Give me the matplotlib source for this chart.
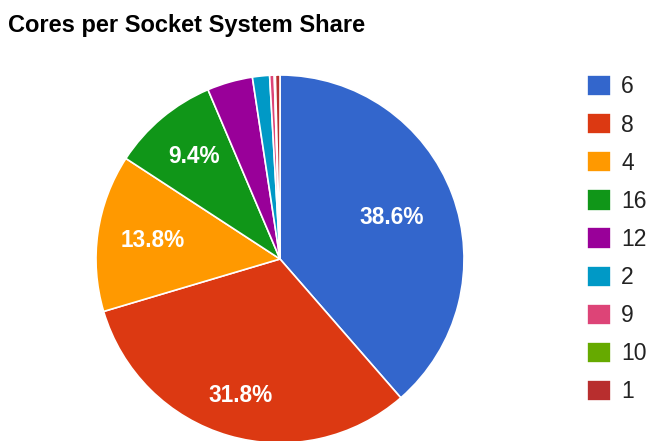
import matplotlib.pyplot as plt
import numpy as np

plt.rcParams["font.family"] = ["Liberation Sans", "DejaVu Sans"]

# cores per socket, share of systems (%)
cores = ["6", "8", "4", "16", "12", "2", "9", "10", "1"]
share = [38.6, 31.8, 13.8, 9.4, 4.0, 1.5, 0.4, 0.1, 0.4]
colors = ["#3366cc", "#dc3912", "#ff9900", "#109618", "#990099",
          "#0099c6", "#dd4477", "#66aa00", "#b82e2e"]

# radial position of each percentage label (fraction of radius)
label_radius = [0.65, 0.77, 0.70, 0.73, 0.7, 0.7, 0.7, 0.7, 0.7]

W, H = 650, 441
fig = plt.figure(figsize=(W / 100, H / 100), dpi=100)

cx, cy, r = 280, 259, 184
ax = fig.add_axes([(cx - r) / W, (H - cy - r) / H, 2 * r / W, 2 * r / H])

wedges, _ = ax.pie(
    share,
    colors=colors,
    startangle=90,
    counterclock=False,
    radius=1,
    wedgeprops=dict(edgecolor="white", linewidth=1.2),
)

# only slices of 5% or more get a label
for w, v, d in zip(wedges, share, label_radius):
    if v < 5:
        continue
    mid = np.deg2rad((w.theta1 + w.theta2) / 2)
    ax.text(d * np.cos(mid), d * np.sin(mid), f"{v:.1f}%",
            ha="center", va="center", color="white",
            fontsize=16.3, fontweight="bold")

ax.set_xlim(-1, 1)
ax.set_ylim(-1, 1)
ax.set_aspect("equal")
ax.axis("off")

fig.text(8 / W, 1 - 32 / H, "Cores per Socket System Share",
         fontsize=17, fontweight="bold", color="black", va="baseline")

fig.legend(
    wedges, cores,
    loc="upper left",
    bbox_to_anchor=(587 / W, 1 - 75 / H),
    frameon=False,
    fontsize=16.5,
    handlelength=1.05,
    handleheight=1.05,
    handletextpad=0.45,
    labelspacing=0.64,
    borderpad=0,
    borderaxespad=0,
    labelcolor="#222222",
)

fig.savefig("out.png", dpi=100)
